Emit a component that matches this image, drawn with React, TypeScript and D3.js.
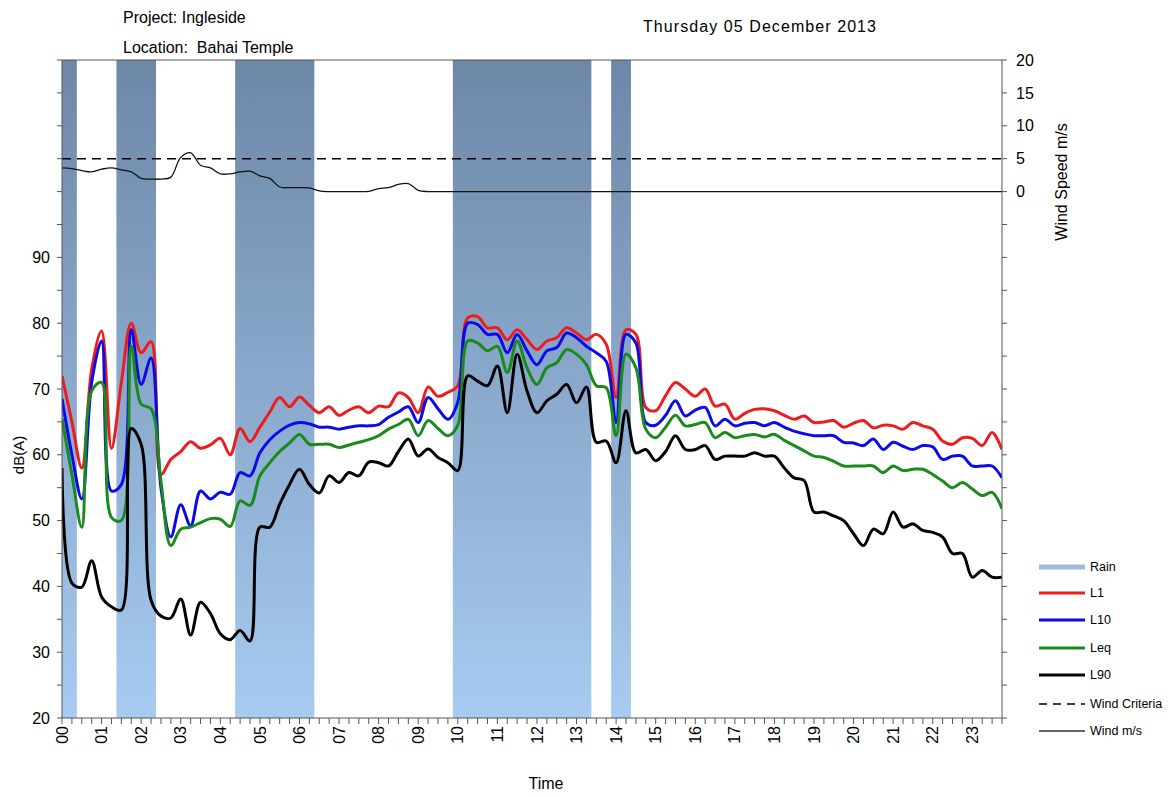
import React from 'react';
import * as d3 from 'd3';

// 15-minute readings, 00:00 .. 23:45
const L1 = [
  72, 65, 58, 73, 78.8, 61, 71, 80, 75.5, 77.2, 57, 59.3, 60.5, 62, 61, 61.5,
  62.5, 60, 64, 62, 64.2, 66.5, 68.7, 67.3, 68.8, 67.5, 66.4, 67.3, 66, 66.8, 67.3, 66.4,
  67.4, 67.3, 69.4, 68.7, 66.4, 70.3, 68.9, 69.5, 70.5, 80.8, 81, 79.3, 79.3, 77.5, 79, 77.5,
  76, 77.3, 77.8, 79.3, 78.5, 77.5, 78.3, 76.8, 68.7, 79, 78.3, 67.2, 66.7, 69, 71, 70,
  68.9, 70, 67.4, 67.7, 65.4, 66.3, 66.9, 67, 66.7, 66, 65.4, 65.9, 64.9, 65, 65.2, 64.2,
  64.8, 65.2, 64.1, 64.5, 64.4, 63.9, 64.9, 64.4, 63.9, 62.1, 61.6, 62.6, 62.5, 61.4, 63.4, 60.8,
];
const L10 = [
  68.5, 60, 53.3, 71, 77.3, 54.5, 55.5, 79, 70.7, 74.7, 55, 47.5, 52.4, 49.2, 54.5, 53.3,
  54.3, 54, 57.3, 56.8, 60.3, 62.3, 63.6, 64.5, 64.9, 64.7, 64.2, 64.2, 63.9, 64.2, 64.4, 64.4,
  64.6, 65.7, 66.5, 67.3, 64.9, 68.7, 67, 65.4, 68, 80, 79.8, 78.3, 78.3, 75.5, 78.3, 75.8,
  73.7, 75.8, 76.3, 78.5, 77.8, 76.5, 75.5, 74.2, 64.9, 78.3, 77, 64.9, 64.5, 66, 68.2, 65.9,
  66.8, 67.2, 64.4, 65.4, 64.4, 64.8, 64.9, 64.4, 64.9, 64.2, 63.6, 63.2, 62.9, 62.9, 62.9, 61.9,
  61.8, 61.4, 62.4, 60.8, 61.9, 61.3, 60.8, 61.4, 61.2, 59.3, 59.8, 59.8, 58.3, 58.3, 58.3, 56.5,
];
const Leq = [
  65.5, 57, 49, 69.7, 71, 50.5, 50, 76.5, 67.7, 67, 56, 46.2, 48.7, 49, 49.7, 50.3,
  50.2, 49.1, 53, 52.3, 56.8, 58.8, 60.5, 61.8, 63.1, 61.6, 61.6, 61.6, 61.1, 61.5, 61.9, 62.3,
  62.9, 63.9, 64.6, 65.4, 62.9, 65.2, 64, 62.9, 64.5, 77.3, 77, 75.8, 76.5, 72.5, 77.3, 73.2,
  70.7, 73.2, 74, 76, 75.3, 73.7, 70.5, 70.2, 62.9, 75.3, 73.2, 63.9, 62.6, 64.2, 66, 64.4,
  64.6, 64.9, 62.6, 63.4, 62.6, 62.9, 63.1, 62.7, 63.1, 62.2, 61.4, 60.6, 59.8, 59.6, 59, 58.3,
  58.3, 58.3, 58.3, 57.3, 58.3, 57.6, 57.8, 57.8, 57, 56, 55, 55.8, 54.8, 53.8, 54.3, 51.8,
];
const L90 = [
  58, 40.5, 39.9, 43.9, 38.4, 36.9, 36.4, 64, 61.6, 37.9, 35.5, 35.2, 38.1, 32.6, 37.6, 35.9,
  32.8, 31.9, 33.3, 31.7, 49, 49, 52.5, 55.5, 57.8, 55.5, 54.2, 56.8, 55.8, 57.3, 56.8, 58.9,
  58.8, 58.3, 60.5, 62.4, 59.8, 60.9, 59.6, 58.8, 57.6, 72, 71.2, 70.5, 73.5, 66.4, 75.3, 69.7,
  66.4, 68.2, 69.2, 70.7, 67.9, 70.3, 61.9, 62.1, 58.8, 66.7, 60.3, 60.8, 59.1, 60.5, 62.9, 60.8,
  60.8, 61.4, 59.3, 59.8, 59.8, 59.8, 60.3, 59.8, 59.8, 58, 56.5, 56.1, 51.3, 51.3, 50.7, 50,
  48, 46.2, 48.7, 48, 51.3, 49, 49.5, 48.5, 48.2, 47.5, 45, 45, 41.4, 42.4, 41.4, 41.4,
];
const windSpeed = [
  3.6, 3.5, 3.2, 3.0, 3.4, 3.6, 3.3, 3.0, 2.0, 1.9, 1.9, 2.2, 5.2, 5.9, 4.0, 3.6,
  2.7, 2.7, 3.0, 3.1, 2.4, 2.0, 0.7, 0.6, 0.6, 0.55, 0.1, 0, 0, 0, 0, 0.05,
  0.45, 0.6, 1.1, 1.2, 0.2, 0, 0, 0, 0, 0, 0, 0, 0, 0, 0, 0,
  0, 0, 0, 0, 0, 0, 0, 0, 0, 0, 0, 0, 0, 0, 0, 0,
  0, 0, 0, 0, 0, 0, 0, 0, 0, 0, 0, 0, 0, 0, 0, 0,
  0, 0, 0, 0, 0, 0, 0, 0, 0, 0, 0, 0, 0, 0, 0, 0,
];
const windCriteria = 5;
// rain: first and last 15-min slot (hours) of each wet period
const rainPeriods: [number, number][] = [
  [0, 0.25],
  [1.5, 2.25],
  [4.5, 6.25],
  [10, 13.25],
  [14, 14.25],
];
const hourLabels = d3.range(24).map((h) => String(h).padStart(2, '0'));
const dbTickLabels = [20, 30, 40, 50, 60, 70, 80, 90];
const windTickLabels = [0, 5, 10, 15, 20];

const series = [
  { name: 'L1', values: L1, color: '#ee1c1c' },
  { name: 'L10', values: L10, color: '#0b0bea' },
  { name: 'Leq', values: Leq, color: '#1a8a1a' },
  { name: 'L90', values: L90, color: '#000000' },
];

const W = 1171;
const H = 797;
const plot = { left: 62, right: 1002, top: 60, bottom: 718 };
const font = 'Liberation Sans, Arial, sans-serif';

export default function App() {
  const times = windSpeed.map((_, i) => i * 0.25);

  const x = d3.scaleLinear().domain([0, 23.75]).range([plot.left, plot.right]);
  const yDb = d3.scaleLinear().domain([20, 120]).range([plot.bottom, plot.top]);
  const yWind = d3.scaleLinear().domain([-80, 20]).range([plot.bottom, plot.top]);

  const dbLine = d3
    .line<number>()
    .x((_, i) => x(times[i]))
    .y((d) => yDb(d))
    .curve(d3.curveCatmullRom.alpha(0.5));
  const windLine = d3
    .line<number>()
    .x((_, i) => x(times[i]))
    .y((d) => yWind(d))
    .curve(d3.curveCatmullRom.alpha(0.5));

  const dbTicks = d3.range(20, 121, 5);
  const windTicks = d3.range(-80, 21, 5);
  const minorX = d3.range(0, 23.76, 0.25);

  const legend = [
    { label: 'Rain', color: '#9fbadb', width: 5, dash: null },
    ...series.map((s) => ({ label: s.name, color: s.color, width: 3, dash: null })),
    { label: 'Wind Criteria', color: '#000', width: 1.3, dash: '8,6' },
    { label: 'Wind m/s', color: '#333', width: 1.5, dash: null },
  ];
  const legendY = [567, 593, 620, 648, 675, 704, 731];

  return (
    <svg
      width={W}
      height={H}
      style={{ position: 'absolute', left: 0, top: 0, background: '#fff' }}
      fontFamily={font}
    >
      <defs>
        <linearGradient id="rainGrad" x1="0" y1={plot.top} x2="0" y2={plot.bottom} gradientUnits="userSpaceOnUse">
          <stop offset="0" stopColor="#6d87a7" />
          <stop offset="1" stopColor="#a7cbf1" />
        </linearGradient>
        <clipPath id="plotClip">
          <rect x={plot.left} y={plot.top} width={plot.right - plot.left} height={plot.bottom - plot.top} />
        </clipPath>
      </defs>

      {/* header */}
      <text x={123} y={23} fontSize={16}>Project: Ingleside</text>
      <text x={123} y={53} fontSize={16} style={{ whiteSpace: 'pre' }}>
        {'Location:  Bahai Temple'}
      </text>
      <text x={643} y={32} fontSize={16} textLength={233} lengthAdjust="spacing">
        Thursday 05 December 2013
      </text>

      {/* rain bands */}
      <g clipPath="url(#plotClip)">
        {rainPeriods.map(([a, b], i) => {
          const x0 = Math.max(plot.left, x(a - 0.125));
          const x1 = Math.min(plot.right, x(b + 0.125));
          return (
            <rect key={i} x={x0} y={plot.top} width={x1 - x0} height={plot.bottom - plot.top} fill="url(#rainGrad)" />
          );
        })}
      </g>

      {/* wind */}
      <g clipPath="url(#plotClip)">
        <line
          x1={plot.left}
          x2={plot.right}
          y1={yWind(windCriteria)}
          y2={yWind(windCriteria)}
          stroke="#000"
          strokeWidth={1.4}
          strokeDasharray="9,6"
        />
        <path d={windLine(windSpeed) ?? ''} fill="none" stroke="#111" strokeWidth={1.3} />
      </g>

      {/* noise levels */}
      <g clipPath="url(#plotClip)">
        {series.map((s) => (
          <path
            key={s.name}
            d={dbLine(s.values) ?? ''}
            fill="none"
            stroke={s.color}
            strokeWidth={3}
            strokeLinejoin="round"
          />
        ))}
      </g>

      {/* frame */}
      <g stroke="#555" strokeWidth={1} fill="none">
        <line x1={plot.left} x2={plot.right} y1={plot.top} y2={plot.top} />
        <line x1={plot.left} x2={plot.right} y1={plot.bottom} y2={plot.bottom} />
        <line x1={plot.left} x2={plot.left} y1={plot.top} y2={plot.bottom} />
        <line x1={plot.right} x2={plot.right} y1={plot.top} y2={plot.bottom} />
      </g>

      {/* left axis */}
      <g stroke="#555">
        {dbTicks.map((t) => (
          <line key={t} x1={plot.left - 5} x2={plot.left} y1={yDb(t)} y2={yDb(t)} />
        ))}
      </g>
      {dbTickLabels.map((t) => (
        <text key={t} x={plot.left - 12} y={yDb(t)} dy="0.35em" textAnchor="end" fontSize={16}>
          {t}
        </text>
      ))}
      <text transform={`translate(24,${455}) rotate(-90)`} textAnchor="middle" fontSize={15}>
        dB(A)
      </text>

      {/* right axis */}
      <g stroke="#555">
        {windTicks.map((t) => (
          <line key={t} x1={plot.right} x2={plot.right + 5} y1={yWind(t)} y2={yWind(t)} />
        ))}
      </g>
      {windTickLabels.map((t) => (
        <text key={t} x={plot.right + 14} y={yWind(t)} dy="0.35em" fontSize={16}>
          {t}
        </text>
      ))}
      <text transform={`translate(1067,${182}) rotate(-90)`} textAnchor="middle" fontSize={16}>
        Wind Speed m/s
      </text>

      {/* x axis */}
      <g stroke="#555">
        {minorX.map((t, i) => (
          <line key={i} x1={x(t)} x2={x(t)} y1={plot.bottom} y2={plot.bottom + 6} />
        ))}
      </g>
      {hourLabels.map((h, i) => (
        <text
          key={h}
          transform={`translate(${x(i)},${plot.bottom + 8}) rotate(-90)`}
          dy="0.35em"
          textAnchor="end"
          fontSize={16}
        >
          {h}
        </text>
      ))}
      <text x={546} y={789} textAnchor="middle" fontSize={16}>
        Time
      </text>

      {/* legend */}
      {legend.map((l, i) => (
        <g key={l.label}>
          <line
            x1={1039}
            x2={1085}
            y1={legendY[i]}
            y2={legendY[i]}
            stroke={l.color}
            strokeWidth={l.width}
            strokeDasharray={l.dash ?? undefined}
          />
          <text x={1090} y={legendY[i]} dy="0.35em" fontSize={12.5}>
            {l.label}
          </text>
        </g>
      ))}
    </svg>
  );
}
